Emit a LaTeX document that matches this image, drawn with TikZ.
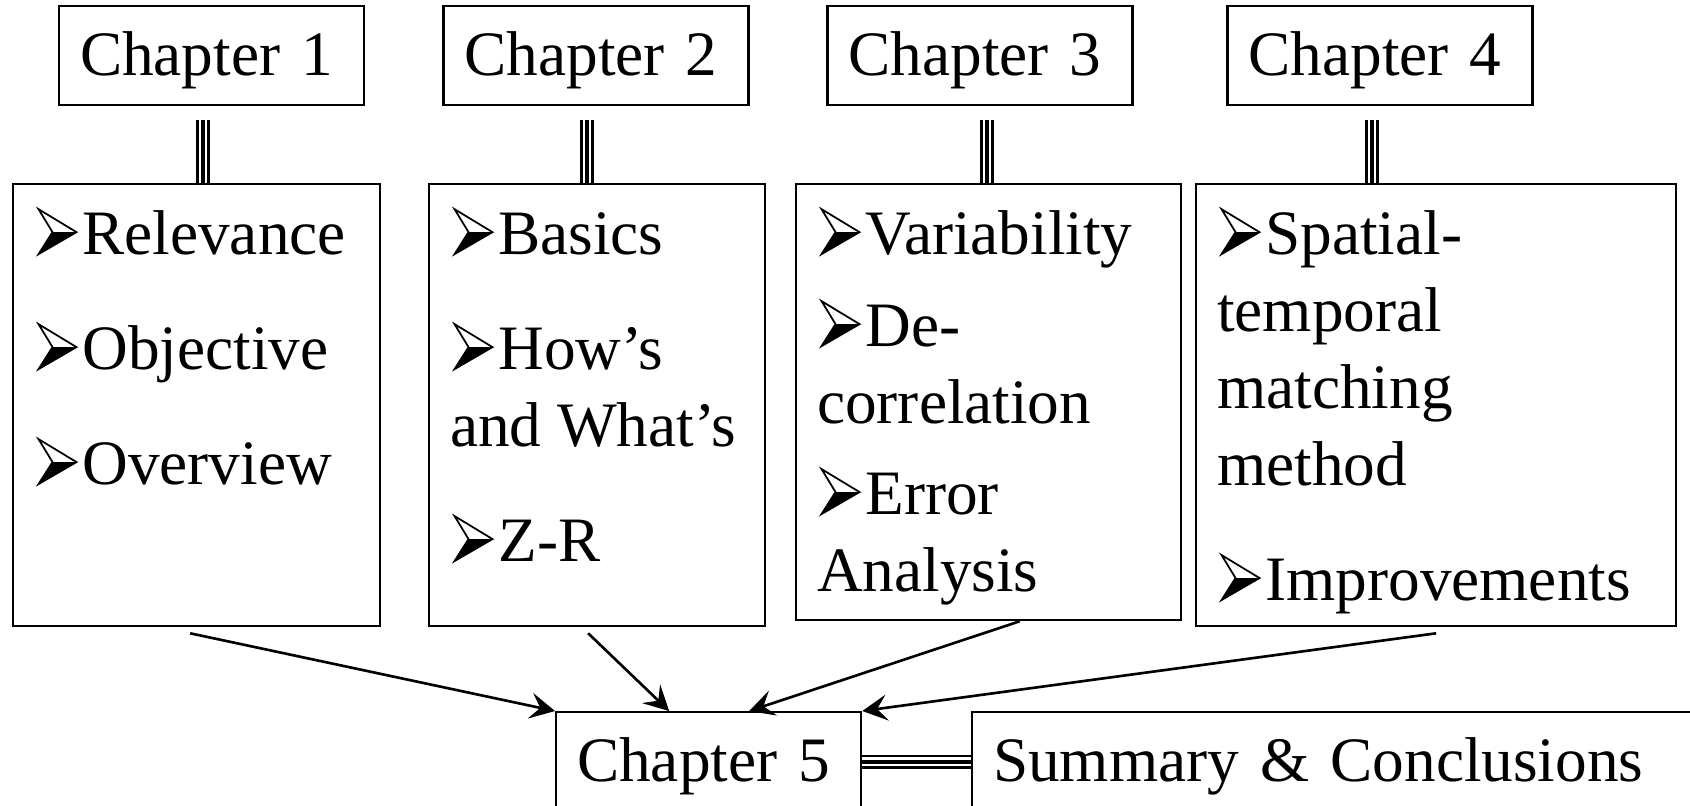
\documentclass[tikz,border=0pt]{standalone}
\usepackage{fontspec}
\setmainfont{Liberation Serif}
\usetikzlibrary{arrows.meta}

% 3D arrowhead bullet
\newcommand{\itembul}{\hspace*{0.035cm}\tikz[baseline=0pt]{%
    \fill[black] (0,0) -- (0.14,0.22) -- (0.38,0.22) -- cycle;
    \draw[line width=0.5pt, line join=miter] (0,0.45) -- (0.38,0.22) -- (0,0) -- (0.14,0.22) -- cycle;}\hspace{0.05cm}}
\newcommand{\boxlist}[3]{\parbox[c][#2][t]{#1}{\fontsize{18pt}{21.9pt}\selectfont
    \leftskip=0.21cm\rightskip=0pt plus 1fil\hyphenpenalty=10000
    \rule{0pt}{0.70cm}#3}}

\tikzset{
    chapbox/.style={draw, line width=0.65pt, minimum width=3.05cm, minimum height=0.99cm, text width=2.63cm, align=left,
        inner xsep=0.21cm, inner ysep=0pt, text height=0.45cm, text depth=0.054cm, font=\fontsize{18pt}{21.9pt}\selectfont},
    listbox/.style={draw, line width=0.65pt, inner sep=0pt, anchor=north west},
    flowarrow/.style={line width=0.75pt, -{Stealth[length=0.25cm, width=0.26cm, inset=0.1cm]}},
    tripleline/.style={draw=white, line width=2.5pt, preaction={draw=black, line width=4pt}, postaction={draw=black, line width=1.1pt}}
}

\begin{document}
\begin{tikzpicture}
    \useasboundingbox (0,0) rectangle (16.9,-8.05);
    % Chapter titles
    \node[chapbox] (ch1) at (2.115,-0.555) {Chapter 1};
    \node[chapbox] (ch2) at (5.96,-0.555) {Chapter 2};
    \node[chapbox] (ch3) at (9.80,-0.555) {Chapter 3};
    \node[chapbox] (ch4) at (13.80,-0.555) {Chapter 4};
    % Chapter contents
    \node[listbox] (b1) at (0.12,-1.83) {\boxlist{3.67cm}{4.42cm}{%
        \itembul Relevance\\[0.38cm]\itembul Objective\\[0.38cm]\itembul Overview}};
    \node[listbox] (b2) at (4.28,-1.83) {\boxlist{3.36cm}{4.42cm}{%
        \itembul Basics\\[0.38cm]\itembul How’s\\and What’s\\[0.38cm]\itembul Z-R}};
    \node[listbox] (b3) at (7.95,-1.83) {\boxlist{3.85cm}{4.36cm}{%
        \itembul Variability\\[0.15cm]\itembul De-\\correlation\\[0.14cm]\itembul Error\\Analysis}};
    \node[listbox] (b4) at (11.95,-1.83) {\boxlist{4.80cm}{4.42cm}{%
        \itembul Spatial-\\temporal\\matching\\method\\[0.38cm]\itembul Improvements}};
    % Final chapter
    \node[chapbox, anchor=north west] (ch5) at (5.55,-7.11) {Chapter 5};
    \node[chapbox, anchor=north west, minimum width=7.5cm, text width=7.08cm] (sum) at (9.71,-7.11) {Summary \& Conclusions};
    % Links between titles and contents
    \draw[tripleline] ([xshift=-0.085cm,yshift=-0.14cm]ch1.south) -- ([xshift=-0.085cm]ch1.south |- b1.north);
    \draw[tripleline] ([xshift=-0.09cm,yshift=-0.14cm]ch2.south) -- ([xshift=-0.09cm]ch2.south |- b2.north);
    \draw[tripleline] ([xshift=0.07cm,yshift=-0.14cm]ch3.south) -- ([xshift=0.07cm]ch3.south |- b3.north);
    \draw[tripleline] ([xshift=-0.08cm,yshift=-0.14cm]ch4.south) -- ([xshift=-0.08cm]ch4.south |- b4.north);
    \draw[tripleline] (ch5.east) -- (sum.west);
    % Arrows into chapter 5
    \draw[flowarrow] ([xshift=-0.065cm,yshift=-0.06cm]b1.south) -- (ch5.north west);
    \draw[flowarrow] ([xshift=-0.09cm,yshift=-0.06cm]b2.south) -- ([xshift=-0.395cm]ch5.north);
    \draw[flowarrow] ([xshift=0.31cm]b3.south) -- ([xshift=0.405cm]ch5.north);
    \draw[flowarrow] ([yshift=-0.06cm]b4.south) -- (ch5.north east);
\end{tikzpicture}
\end{document}
